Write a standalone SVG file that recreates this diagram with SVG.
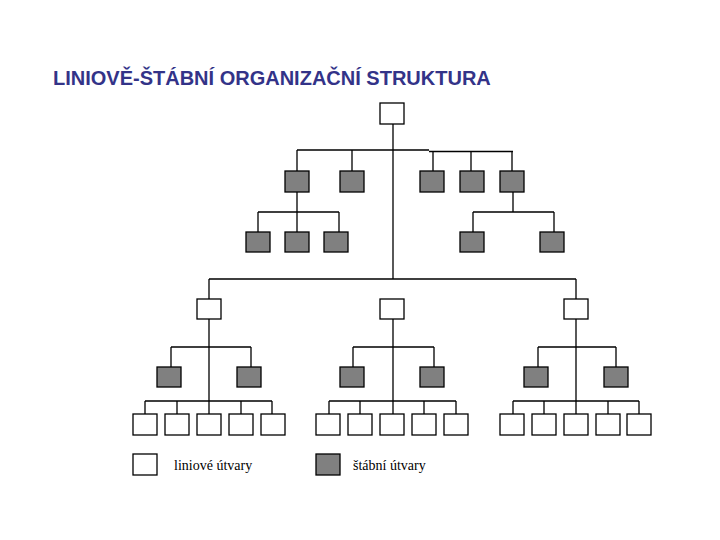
<svg xmlns="http://www.w3.org/2000/svg" width="720" height="540" viewBox="0 0 720 540">
<style>
.ln{fill:#fff;stroke:#000;stroke-width:1.3}
.st{fill:#808080;stroke:#000;stroke-width:1.3}
.c{fill:none;stroke:#000;stroke-width:1.3}
.title{font-family:"Liberation Sans",Arial,sans-serif;font-weight:bold;font-size:20px;fill:#333388}
.lg{font-family:"Liberation Serif","Times New Roman",serif;font-size:14px;fill:#000}
</style>
<rect width="720" height="540" fill="#fff"/>
<text class="title" x="53" y="85">LINIOVĚ-ŠTÁBNÍ ORGANIZAČNÍ STRUKTURA</text>
<g id="connectors">
<path class="c" d="M393 124V279M297 150H429M429 151.5H513M297 150V171M352 150V171M433 151.5V171M471 151.5V171M512 151.5V171"/>
<path class="c" d="M297 192V232M258 212H339M258 212V232M339 212V232M513 192V212M473 212H554M473 212V232M554 212V232"/>
<path class="c" d="M209 279H576M209 279V299M576 279V299"/>
<path class="c" d="M209 319V414M171 347H251M171 347V367M251 347V367M145 401H272M145 401V414M177 401V414M241 401V414M272 401V414"/>
<path class="c" d="M393 319V414M353 347H434M353 347V367M434 347V367M329 401H456M329 401V414M360 401V414M424 401V414M456 401V414"/>
<path class="c" d="M576 319V414M538 347H616M538 347V367M616 347V367M513 401H639M513 401V414M544 401V414M608 401V414M639 401V414"/>
</g>
<g id="top"><rect class="ln" x="380" y="103" width="24" height="21"/></g>
<g id="s1"><rect class="st" x="285" y="171" width="24" height="21"/></g>
<g id="s2"><rect class="st" x="340" y="171" width="24" height="21"/></g>
<g id="s3"><rect class="st" x="420" y="171" width="24" height="21"/></g>
<g id="s4"><rect class="st" x="460" y="171" width="24" height="21"/></g>
<g id="s5"><rect class="st" x="500" y="171" width="24" height="21"/></g>
<g id="s1a"><rect class="st" x="246" y="232" width="24" height="20"/></g>
<g id="s1b"><rect class="st" x="285" y="232" width="24" height="20"/></g>
<g id="s1c"><rect class="st" x="324" y="232" width="24" height="20"/></g>
<g id="s5a"><rect class="st" x="460" y="232" width="24" height="20"/></g>
<g id="s5b"><rect class="st" x="540" y="232" width="24" height="20"/></g>
<g id="l1"><rect class="ln" x="197" y="299" width="24" height="20"/></g>
<g id="l2"><rect class="ln" x="380" y="299" width="24" height="20"/></g>
<g id="l3"><rect class="ln" x="564" y="299" width="24" height="20"/></g>
<g id="s6"><rect class="st" x="157" y="367" width="24" height="20"/></g>
<g id="s7"><rect class="st" x="237" y="367" width="24" height="20"/></g>
<g id="s8"><rect class="st" x="340" y="367" width="24" height="20"/></g>
<g id="s9"><rect class="st" x="420" y="367" width="24" height="20"/></g>
<g id="s10"><rect class="st" x="524" y="367" width="24" height="20"/></g>
<g id="s11"><rect class="st" x="604" y="367" width="24" height="20"/></g>
<g id="b1"><rect class="ln" x="133" y="414" width="24" height="21"/></g>
<g id="b2"><rect class="ln" x="165" y="414" width="24" height="21"/></g>
<g id="b3"><rect class="ln" x="197" y="414" width="24" height="21"/></g>
<g id="b4"><rect class="ln" x="229" y="414" width="24" height="21"/></g>
<g id="b5"><rect class="ln" x="261" y="414" width="24" height="21"/></g>
<g id="b6"><rect class="ln" x="316" y="414" width="24" height="21"/></g>
<g id="b7"><rect class="ln" x="348" y="414" width="24" height="21"/></g>
<g id="b8"><rect class="ln" x="380" y="414" width="24" height="21"/></g>
<g id="b9"><rect class="ln" x="412" y="414" width="24" height="21"/></g>
<g id="b10"><rect class="ln" x="444" y="414" width="24" height="21"/></g>
<g id="b11"><rect class="ln" x="500" y="414" width="24" height="21"/></g>
<g id="b12"><rect class="ln" x="532" y="414" width="24" height="21"/></g>
<g id="b13"><rect class="ln" x="564" y="414" width="24" height="21"/></g>
<g id="b14"><rect class="ln" x="596" y="414" width="24" height="21"/></g>
<g id="b15"><rect class="ln" x="627" y="414" width="24" height="21"/></g>
<g id="legend-l"><rect class="ln" x="133" y="454" width="24" height="21"/><text class="lg" x="174" y="470">liniové útvary</text></g>
<g id="legend-s"><rect class="st" x="316" y="454" width="24" height="21"/><text class="lg" x="353" y="470">štábní útvary</text></g>
</svg>
